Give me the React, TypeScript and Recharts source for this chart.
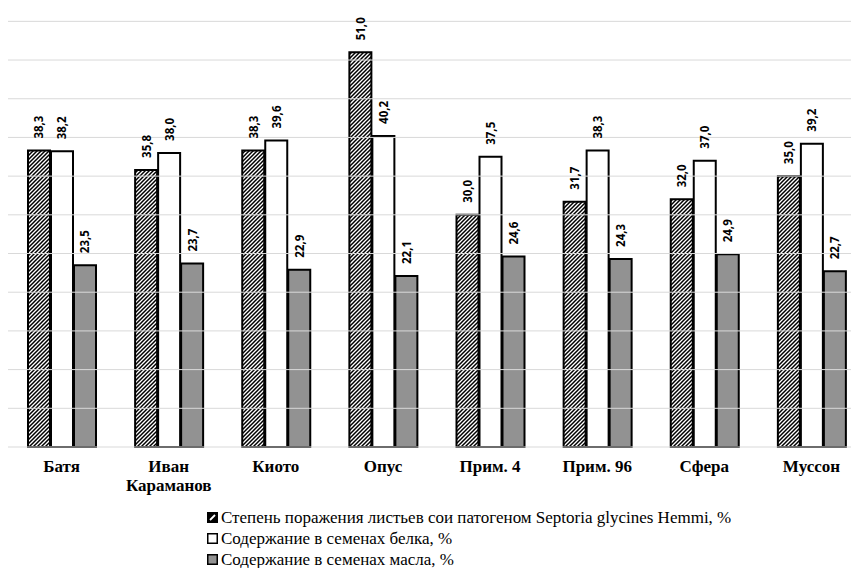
import React from "react";
import {
  BarChart,
  Bar,
  XAxis,
  YAxis,
  LabelList,
  ReferenceLine,
} from "recharts";

const categories = ["Батя", "Иван\nКараманов", "Киото", "Опус", "Прим. 4", "Прим. 96", "Сфера", "Муссон"];
const diseaseValues = [38.3, 35.8, 38.3, 51.0, 30.0, 31.7, 32.0, 35.0];
const proteinValues = [38.2, 38.0, 39.6, 40.2, 37.5, 38.3, 37.0, 39.2];
const oilValues = [23.5, 23.7, 22.9, 22.1, 24.6, 24.3, 24.9, 22.7];
const yTicks = [5, 10, 15, 20, 25, 30, 35, 40, 45, 50, 55];
const yMax = 57.5;

const seriesNames = [
  "Степень поражения листьев сои патогеном Septoria glycines Hemmi, %",
  "Содержание в семенах белка, %",
  "Содержание в семенах масла, %",
];

const data = categories.map((name, i) => ({
  name,
  disease: diseaseValues[i],
  protein: proteinValues[i],
  oil: oilValues[i],
}));

const SERIF = "'Times New Roman', 'Liberation Serif', 'DejaVu Serif', serif";

const fmt = (v: number) => v.toFixed(1).replace(".", ",");

// value labels are written vertically above each bar
const ValueLabel = (props: any) => {
  const { x, y, width, value } = props;
  const cx = x + width / 2;
  const cy = y - 12;
  return (
    <text
      x={cx}
      y={cy}
      transform={`rotate(-90 ${cx} ${cy})`}
      textAnchor="start"
      dominantBaseline="central"
      fontFamily="'Open Sans', sans-serif"
      fontWeight={700}
      fontSize={11.5}
      fill="#000"
    >
      {fmt(Number(value))}
    </text>
  );
};

const CategoryTick = (props: any) => {
  const { x, y, payload } = props;
  const lines = String(payload.value).split("\n");
  return (
    <text
      x={x}
      y={y}
      textAnchor="middle"
      fontFamily={SERIF}
      fontWeight={700}
      fontSize={17}
      fill="#000"
    >
      {lines.map((line, i) => (
        <tspan key={i} x={x} dy={i === 0 ? 17 : 19}>
          {line}
        </tspan>
      ))}
    </text>
  );
};

const LegendSwatch = ({ kind }: { kind: number }) => (
  <svg width={11} height={11} style={{ marginRight: 3, flexShrink: 0 }}>
    <rect
      x={0.75}
      y={0.75}
      width={9.5}
      height={9.5}
      fill={kind === 0 ? "#000" : kind === 1 ? "#fff" : "#929292"}
      stroke="#000"
      strokeWidth={1.5}
    />
    {kind === 0 && <line x1={3} y1={8} x2={8} y2={3} stroke="#fff" strokeWidth={1.8} />}
  </svg>
);

export default function App() {
  return (
    <div
      style={{
        position: "relative",
        width: 859,
        height: 568,
        marginLeft: -8,
        marginTop: -8,
        overflow: "hidden",
        background: "#fff",
      }}
    >
      <BarChart
        width={866}
        height={568}
        data={data}
        margin={{ top: 2, right: 1, bottom: 91, left: 8 }}
        barSize={22}
        barGap={1}
      >
        <defs>
          <pattern id="hatch" width={4} height={4} patternUnits="userSpaceOnUse">
            <rect width={4} height={4} fill="#fff" />
            <path d="M-1,1 L1,-1 M0,4 L4,0 M3,5 L5,3" stroke="#000" strokeWidth={1.5} />
          </pattern>
        </defs>
        {yTicks.map((t) => (
          <ReferenceLine key={t} y={t} stroke="#d9d9d9" />
        ))}
        <ReferenceLine y={yMax} stroke="#ececec" />
        <XAxis
          dataKey="name"
          height={30}
          interval={0}
          axisLine={{ stroke: "#d9d9d9" }}
          tickLine={false}
          tick={<CategoryTick />}
        />
        <YAxis width={0} domain={[0, yMax]} ticks={yTicks} tick={false} axisLine={false} tickLine={false} />
        <Bar dataKey="disease" fill="url(#hatch)" stroke="#000" strokeWidth={2} isAnimationActive={false}>
          <LabelList dataKey="disease" content={<ValueLabel />} />
        </Bar>
        <Bar dataKey="protein" fill="#fff" stroke="#000" strokeWidth={2} isAnimationActive={false}>
          <LabelList dataKey="protein" content={<ValueLabel />} />
        </Bar>
        <Bar dataKey="oil" fill="#929292" stroke="#000" strokeWidth={2} isAnimationActive={false}>
          <LabelList dataKey="oil" content={<ValueLabel />} />
        </Bar>
      </BarChart>
      <div
        style={{
          position: "absolute",
          left: 207,
          top: 507,
          fontFamily: SERIF,
          fontSize: 17,
          lineHeight: "21px",
          color: "#000",
        }}
      >
        {seriesNames.map((n, i) => (
          <div key={i} style={{ display: "flex", alignItems: "center", height: 21 }}>
            <LegendSwatch kind={i} />
            <span>{n}</span>
          </div>
        ))}
      </div>
    </div>
  );
}
